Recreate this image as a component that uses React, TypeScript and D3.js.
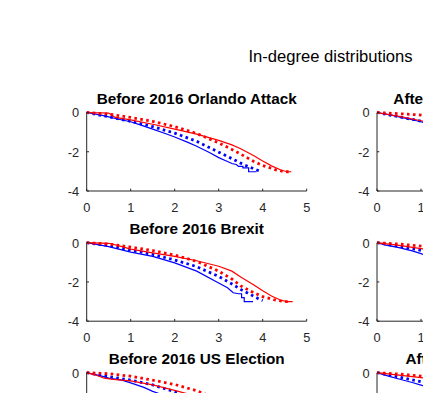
import React from "react";
import * as d3 from "d3";

type Pt = [number, number];

const mainTitle = "In-degree distributions";
const panelTitles = [
  "Before 2016 Orlando Attack",
  "After 2016 Orlando Attack",
  "Before 2016 Brexit",
  "After 2016 Brexit",
  "Before 2016 US Election",
  "After 2016 US Election",
];
const xTicks = [0, 1, 2, 3, 4, 5];
const yTicks = [0, -2, -4];

// Before Orlando
const orlBeforeBlueSolid: Pt[] = [[0,0],[0.3,-0.12],[0.5,-0.22],[0.7,-0.33],[1,-0.47],[1.2,-0.62],[1.5,-0.85],[1.8,-1.08],[2,-1.25],[2.3,-1.52],[2.5,-1.72],[2.8,-2.05],[3,-2.3],[3.2,-2.5],[3.3,-2.6],[3.4,-2.65],[3.45,-2.75],[3.55,-2.75],[3.55,-2.82],[3.68,-2.82],[3.68,-3.02],[3.86,-3.02]];
const orlBeforeBlueDotted: Pt[] = [[0,0],[0.5,-0.22],[1,-0.45],[1.5,-0.72],[2,-1.05],[2.5,-1.47],[3,-2.02],[3.3,-2.35],[3.5,-2.58],[3.7,-2.78],[3.95,-3.0]];
const orlBeforeRedSolid: Pt[] = [[0,0],[0.5,-0.03],[0.55,-0.1],[0.65,-0.25],[1,-0.38],[1.5,-0.6],[2,-0.85],[2.5,-1.1],[3,-1.42],[3.3,-1.65],[3.5,-1.85],[3.8,-2.2],[4,-2.47],[4.2,-2.72],[4.4,-2.92],[4.55,-3.02],[4.65,-3.02]];
const orlBeforeRedDotted: Pt[] = [[0,0],[0.5,-0.08],[1,-0.25],[1.5,-0.45],[2,-0.72],[2.5,-1.07],[3,-1.55],[3.3,-1.88],[3.5,-2.12],[3.8,-2.5],[4,-2.7],[4.3,-2.92],[4.5,-3.02],[4.6,-3.02]];

// After Orlando
const orlAfterBlueSolid: Pt[] = [[0,0],[0.3,-0.12],[0.5,-0.22],[0.8,-0.37],[1,-0.47],[1.5,-0.8],[2,-1.2],[2.5,-1.7],[3,-2.3],[3.5,-2.85],[3.7,-3.0]];
const orlAfterBlueDotted: Pt[] = [[0,0],[0.5,-0.22],[1,-0.44],[1.5,-0.72],[2,-1.05],[2.5,-1.5],[3,-2.05],[3.5,-2.6],[3.9,-3.0]];
const orlAfterRedSolid: Pt[] = [[0,0],[0.5,-0.2],[1,-0.42],[1.5,-0.65],[2,-0.92],[2.5,-1.2],[3,-1.55],[3.5,-2.0],[4,-2.55],[4.4,-2.95],[4.6,-3.0]];
const orlAfterRedDotted: Pt[] = [[0,0],[0.5,-0.06],[1,-0.13],[1.5,-0.3],[2,-0.6],[2.5,-0.98],[3,-1.45],[3.5,-2.0],[4,-2.6],[4.4,-2.95]];

// Before Brexit
const brxBeforeBlueSolid: Pt[] = [[0,0],[0.5,-0.2],[1,-0.48],[1.5,-0.7],[2,-1.03],[2.5,-1.45],[3,-2.05],[3.2,-2.3],[3.33,-2.55],[3.45,-2.6],[3.52,-2.6],[3.52,-2.8],[3.58,-2.8],[3.58,-3.0],[3.78,-3.0]];
const brxBeforeBlueDotted: Pt[] = [[0,0],[0.5,-0.15],[1,-0.38],[1.5,-0.6],[2,-0.88],[2.5,-1.22],[3,-1.72],[3.3,-2.1],[3.5,-2.38],[3.7,-2.62],[3.9,-2.85],[4.0,-2.95]];
const brxBeforeRedSolid: Pt[] = [[0,0],[0.5,-0.03],[0.6,-0.08],[0.8,-0.2],[1,-0.33],[1.5,-0.52],[2,-0.7],[2.5,-0.92],[3,-1.2],[3.3,-1.45],[3.5,-1.75],[3.8,-2.15],[4,-2.45],[4.2,-2.72],[4.4,-2.92],[4.55,-3.0],[4.68,-3.0]];
const brxBeforeRedDotted: Pt[] = [[0,0],[0.5,-0.07],[1,-0.22],[1.5,-0.4],[2,-0.63],[2.5,-0.95],[3,-1.45],[3.3,-1.85],[3.5,-2.2],[3.8,-2.55],[4,-2.75],[4.3,-2.93],[4.5,-3.0],[4.58,-3.0]];

// After Brexit
const brxAfterBlueSolid: Pt[] = [[0,0],[0.2,-0.12],[0.5,-0.25],[0.8,-0.42],[1,-0.56],[1.5,-0.9],[2,-1.3],[2.5,-1.8],[3,-2.35],[3.5,-2.9],[3.6,-3.0]];
const brxAfterBlueDotted: Pt[] = [[0,0],[0.5,-0.18],[1,-0.39],[1.5,-0.66],[2,-1.0],[2.5,-1.42],[3,-1.95],[3.5,-2.55],[3.9,-3.0]];
const brxAfterRedSolid: Pt[] = [[0,0],[0.5,-0.14],[1,-0.3],[1.5,-0.5],[2,-0.75],[2.5,-1.05],[3,-1.42],[3.5,-1.9],[4,-2.5],[4.4,-2.95],[4.6,-3.0]];
const brxAfterRedDotted: Pt[] = [[0,0],[0.5,-0.07],[1,-0.17],[1.5,-0.35],[2,-0.6],[2.5,-0.95],[3,-1.4],[3.5,-1.95],[4,-2.55],[4.4,-2.95]];

// Before US Election
const usBeforeBlueSolid: Pt[] = [[0,0],[0.3,-0.15],[0.5,-0.28],[0.8,-0.38],[1,-0.52],[1.3,-0.75],[1.5,-0.95],[2,-1.35],[2.5,-1.8],[3,-2.35],[3.4,-2.8],[3.6,-3.0],[3.8,-3.0]];
const usBeforeBlueDotted: Pt[] = [[0,0],[0.5,-0.2],[1,-0.38],[1.5,-0.62],[2,-0.97],[2.5,-1.38],[3,-1.9],[3.5,-2.5],[3.9,-2.95]];
const usBeforeRedSolid: Pt[] = [[0,0],[0.2,-0.12],[0.4,-0.28],[0.6,-0.34],[1,-0.42],[1.5,-0.62],[2,-0.9],[2.5,-1.2],[3,-1.55],[3.5,-2.0],[4,-2.55],[4.4,-2.95],[4.6,-3.0]];
const usBeforeRedDotted: Pt[] = [[0,0],[0.5,-0.05],[1,-0.18],[1.5,-0.38],[2,-0.6],[2.5,-0.92],[3,-1.35],[3.5,-1.9],[4,-2.5],[4.4,-2.9],[4.55,-3.0]];

// After US Election
const usAfterBlueSolid: Pt[] = [[0,0],[0.3,-0.2],[0.5,-0.32],[0.8,-0.5],[1,-0.63],[1.5,-1.0],[2,-1.42],[2.5,-1.9],[3,-2.45],[3.4,-2.9],[3.5,-3.0]];
const usAfterBlueDotted: Pt[] = [[0,0],[0.5,-0.22],[1,-0.46],[1.5,-0.75],[2,-1.1],[2.5,-1.52],[3,-2.05],[3.5,-2.65],[3.8,-3.0]];
const usAfterRedSolid: Pt[] = [[0,0],[0.5,-0.12],[1,-0.25],[1.5,-0.45],[2,-0.7],[2.5,-1.0],[3,-1.38],[3.5,-1.88],[4,-2.5],[4.4,-2.95],[4.6,-3.0]];
const usAfterRedDotted: Pt[] = [[0,0],[0.5,-0.07],[1,-0.17],[1.5,-0.34],[2,-0.58],[2.5,-0.92],[3,-1.38],[3.5,-1.95],[4,-2.55],[4.4,-2.95]];

const panelSeries: Pt[][][] = [
  [orlBeforeBlueSolid, orlBeforeBlueDotted, orlBeforeRedSolid, orlBeforeRedDotted],
  [orlAfterBlueSolid, orlAfterBlueDotted, orlAfterRedSolid, orlAfterRedDotted],
  [brxBeforeBlueSolid, brxBeforeBlueDotted, brxBeforeRedSolid, brxBeforeRedDotted],
  [brxAfterBlueSolid, brxAfterBlueDotted, brxAfterRedSolid, brxAfterRedDotted],
  [usBeforeBlueSolid, usBeforeBlueDotted, usBeforeRedSolid, usBeforeRedDotted],
  [usAfterBlueSolid, usAfterBlueDotted, usAfterRedSolid, usAfterRedDotted],
];
const seriesColors = ["#0000ff", "#0000ff", "#ff0000", "#ff0000"];
const seriesDotted = [false, true, false, true];

const W = 423;
const H = 393;
const colX = [86.7, 377];
const rowY = [112.5, 242.7, 372.7];
const plotW = 220;
const plotH = 78.5;
const axisColor = "#262626";
const font = "'Liberation Sans', Arial, Helvetica, sans-serif";

function Panel({ idx }: { idx: number }) {
  const col = idx % 2;
  const row = Math.floor(idx / 2);
  const x0 = colX[col];
  const y0 = rowY[row];
  const x = d3.scaleLinear().domain([0, 5]).range([x0, x0 + plotW]);
  const y = d3.scaleLinear().domain([-4, 0]).range([y0 + plotH, y0]);
  const line = d3.line<Pt>().x((d) => x(d[0])).y((d) => y(d[1]));
  const tl = 2.3;
  return (
    <g>
      <text
        x={x0 + plotW / 2}
        y={y0 - 9}
        textAnchor="middle"
        fontFamily={font}
        fontWeight="bold"
        fontSize={15.3}
        fill="#000"
      >
        {panelTitles[idx]}
      </text>
      {panelSeries[idx].map((s, i) => (
        <path
          key={i}
          d={line(s) || ""}
          fill="none"
          stroke={seriesColors[i]}
          strokeWidth={seriesDotted[i] ? 2.8 : 1.2}
          strokeDasharray={seriesDotted[i] ? "2.6 3.4" : undefined}
        />
      ))}
      <line x1={x0} x2={x0 + plotW} y1={y(-4)} y2={y(-4)} stroke={axisColor} strokeWidth={1} />
      <line x1={x0} x2={x0} y1={y(-4)} y2={y(0)} stroke={axisColor} strokeWidth={1} />
      {xTicks.map((t) => (
        <g key={"x" + t}>
          <line x1={x(t)} x2={x(t)} y1={y(-4)} y2={y(-4) - tl} stroke={axisColor} />
          <text
            x={x(t)}
            y={y(-4) + 21}
            textAnchor="middle"
            fontFamily={font}
            fontSize={12.8}
            fill={axisColor}
          >
            {t}
          </text>
        </g>
      ))}
      {yTicks.map((t) => (
        <g key={"y" + t}>
          <line x1={x0} x2={x0 + tl} y1={y(t)} y2={y(t)} stroke={axisColor} />
          <text
            x={x0 - 7.5}
            y={y(t)}
            dy="0.38em"
            textAnchor="end"
            fontFamily={font}
            fontSize={12.8}
            fill={axisColor}
          >
            {t}
          </text>
        </g>
      ))}
    </g>
  );
}

export default function App() {
  return (
    <svg
      width={W}
      height={H}
      style={{ position: "absolute", left: 0, top: 0, background: "#fff" }}
    >
      <rect x={0} y={0} width={W} height={H} fill="#fff" />
      <text
        x={330.5}
        y={62}
        textAnchor="middle"
        fontFamily={font}
        fontSize={16.6}
        fill="#000"
      >
        {mainTitle}
      </text>
      {panelTitles.map((_, i) => (
        <Panel key={i} idx={i} />
      ))}
    </svg>
  );
}
